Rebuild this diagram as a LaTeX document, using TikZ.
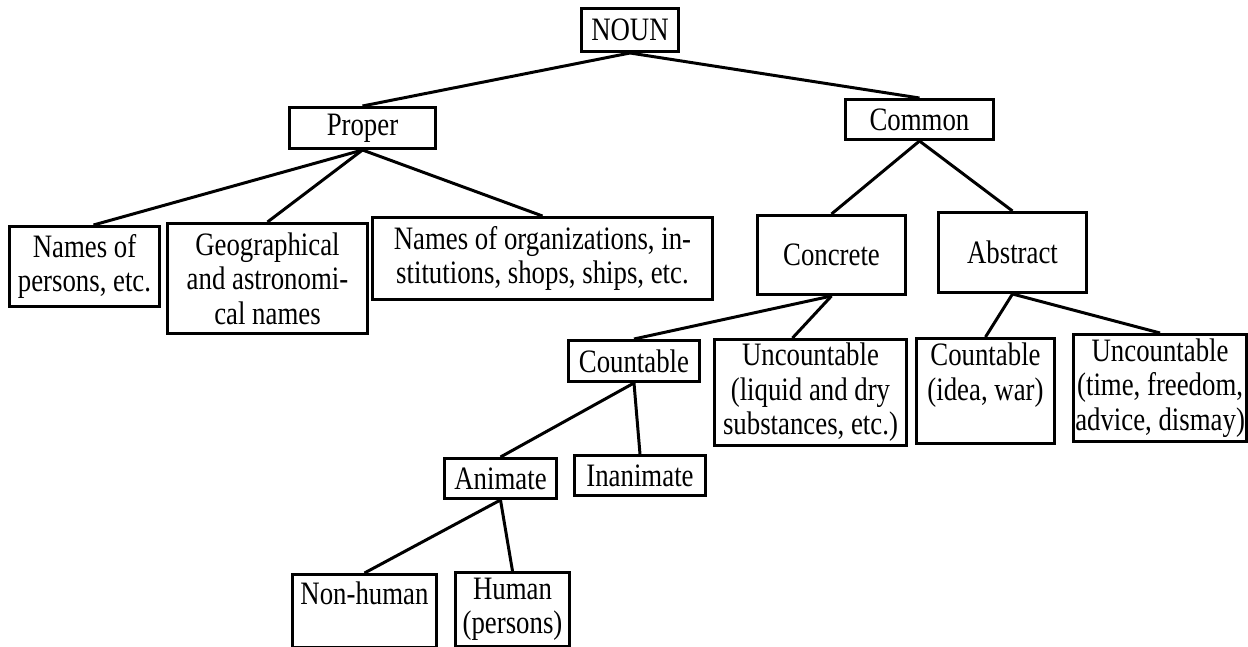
\documentclass[tikz,border=0pt]{standalone}
\usepackage{fontspec}
\setmainfont{Liberation Serif}[FakeStretch=0.82]

\begin{document}
\begin{tikzpicture}[
    box/.style={draw, line width=1.7pt, align=center, anchor=north west, inner sep=2pt,
        font=\fontsize{18.6}{19.6}\selectfont},
    link/.style={line width=1.7pt}
]
    \useasboundingbox (0,0) rectangle (24.96,-12.92);

    % Top level
    \node[box, minimum width=1.94cm, minimum height=0.86cm] (noun) at (11.60,-0.14) {NOUN};
    \node[box, minimum width=2.92cm, minimum height=0.82cm] (proper) at (5.76,-2.12) {Proper};
    \node[box, minimum width=2.96cm, minimum height=0.80cm] (common) at (16.88,-1.96) {Common};

    % Proper nouns
    \node[box, minimum width=3.00cm, minimum height=1.60cm] (persons) at (0.16,-4.50) {Names of\\persons, etc.};
    \node[box, minimum width=4.00cm, minimum height=2.20cm] (geo) at (3.32,-4.44) {Geographical\\and astronomi-\\cal names};
    \node[box, minimum width=6.80cm, minimum height=1.64cm] (orgs) at (7.42,-4.32) {Names of organizations, in-\\stitutions, shops, ships, etc.};

    % Common nouns
    \node[box, minimum width=2.96cm, minimum height=1.58cm] (concrete) at (15.12,-4.28) {Concrete};
    \node[box, minimum width=2.96cm, minimum height=1.60cm] (abstract) at (18.74,-4.22) {Abstract};
    \node[box, minimum width=2.62cm, minimum height=0.82cm] (countable) at (11.34,-6.78) {Countable};
    \node[box, minimum width=3.84cm, minimum height=2.12cm] (uncliquid) at (14.26,-6.76) {Uncountable\\(liquid and dry\\substances, etc.)};
    \node[box, minimum width=2.76cm, minimum height=2.10cm, text depth=0.78cm] (countidea) at (18.30,-6.74) {Countable\\(idea, war)};
    \node[box, minimum width=3.44cm, minimum height=2.14cm, inner xsep=1pt] (unctime) at (21.44,-6.66) {Uncountable\\(time, freedom,\\advice, dismay)};

    % Countable split
    \node[box, minimum width=2.24cm, minimum height=0.80cm] (animate) at (8.86,-9.14) {Animate};
    \node[box, minimum width=2.62cm, minimum height=0.80cm] (inanimate) at (11.46,-9.08) {Inanimate};
    \node[box, minimum width=2.88cm, minimum height=1.46cm, text depth=0.72cm] (nonhuman) at (5.82,-11.46) {Non-human};
    \node[box, minimum width=2.28cm, minimum height=1.48cm] (human) at (9.08,-11.42) {Human\\(persons)};

    % Connectors
    \draw[link] (noun.south) -- (proper.north);
    \draw[link] (noun.south) -- (common.north);
    \draw[link] (proper.south) -- ([xshift=0.18cm]persons.north);
    \draw[link] (proper.south) -- (geo.north);
    \draw[link] (proper.south) -- (orgs.north);
    \draw[link] (common.south) -- (concrete.north);
    \draw[link] (common.south) -- (abstract.north);
    \draw[link] (concrete.south) -- (countable.north);
    \draw[link] (concrete.south) -- ([xshift=-0.36cm]uncliquid.north);
    \draw[link] (abstract.south) -- (countidea.north);
    \draw[link] (abstract.south) -- (unctime.north);
    \draw[link] (countable.south) -- (animate.north);
    \draw[link] (countable.south) -- (inanimate.north);
    \draw[link] (animate.south) -- (nonhuman.north);
    \draw[link] (animate.south) -- (human.north);
\end{tikzpicture}
\end{document}
